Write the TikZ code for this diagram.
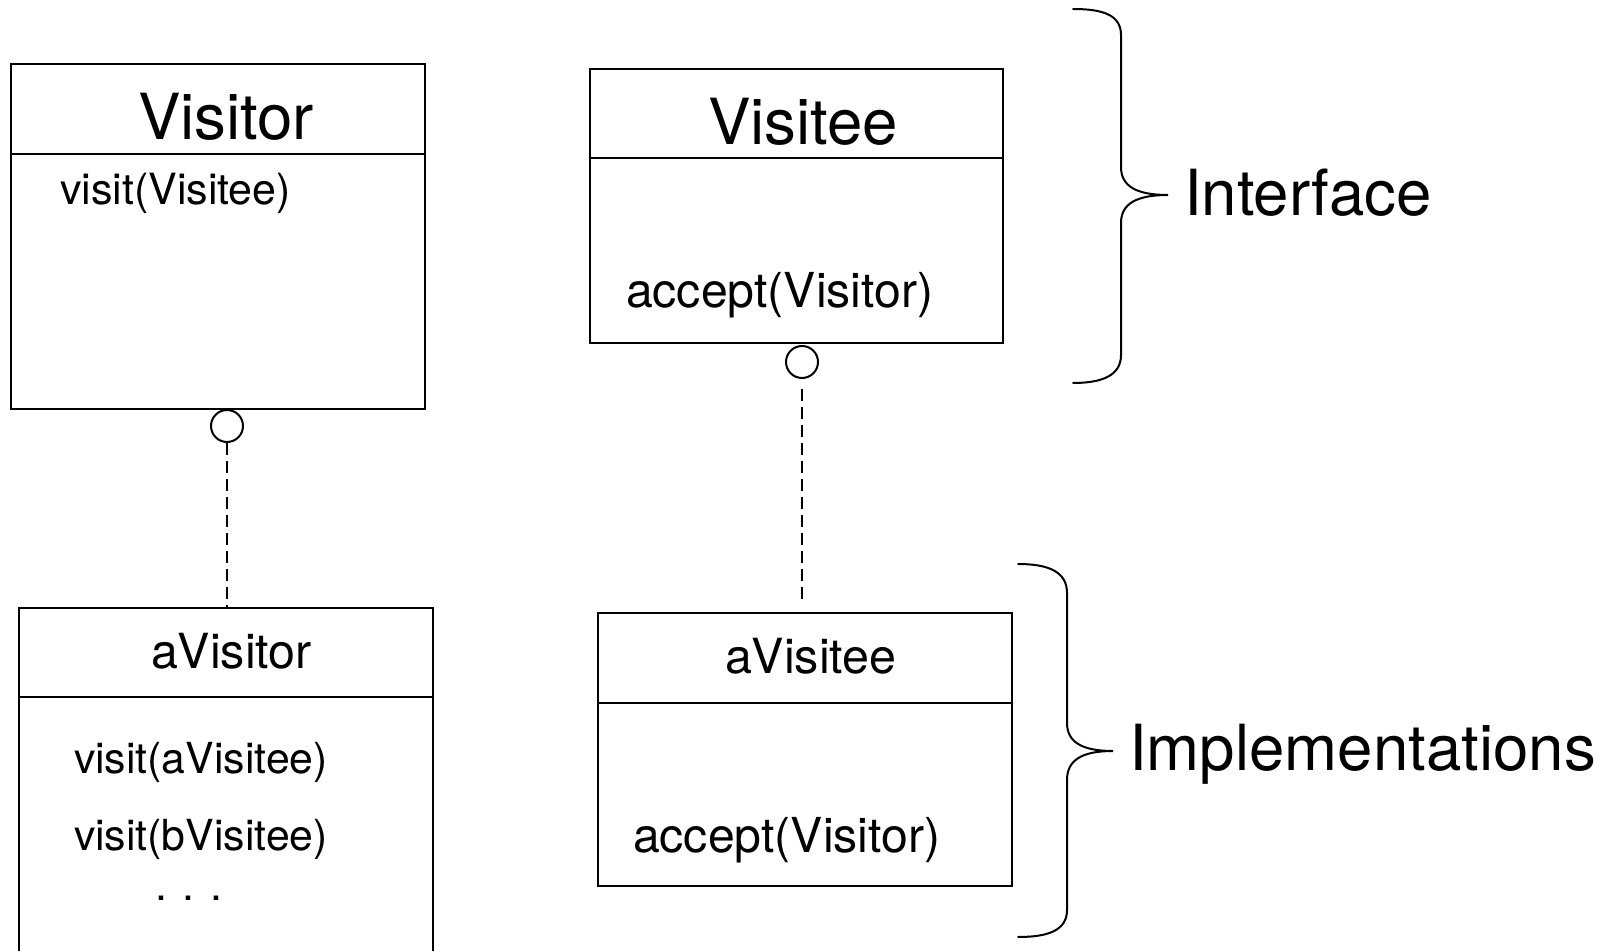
\documentclass[tikz,border=0pt]{standalone}
\usepackage{fontspec}
\setmainfont{TeX Gyre Heros}
\begin{document}
\begin{tikzpicture}[x=0.5pt,y=-0.5pt,line width=1pt,
  umlbox/.style={draw,rectangle,inner sep=0pt,outer sep=0pt,anchor=north west},
  lollipop/.style={draw,circle,fill=white,minimum size=16pt,inner sep=0pt},
  realize/.style={dash pattern=on 6pt off 3pt},
  bracepath/.style={line cap=round},
  txt/.style={inner sep=0pt,outer sep=0pt,anchor=base west},
  titlefont/.style={font=\fontsize{31.8}{36}\selectfont},
  headfont/.style={font=\fontsize{24.2}{28}\selectfont},
  acceptfont/.style={font=\fontsize{24.1}{28}\selectfont},
  opfont/.style={font=\fontsize{21.4}{25}\selectfont}]
\useasboundingbox (0,0) rectangle (1616,951);
\clip (0,0) rectangle (1616,951);

% Visitor interface
\node[umlbox,minimum width=207pt,minimum height=172.5pt] (visitor) at (11,64) {};
\node[umlbox,minimum width=207pt,minimum height=45pt] (visitorhead) at (11,64) {};
\node[txt,titlefont] (visitortitle) at (138,140) {Visitor};
\node[txt,font=\fontsize{21.5}{25}\selectfont] (visitorop) at (60,205) {visit(Visitee)};

% Visitee interface
\node[umlbox,minimum width=206.5pt,minimum height=137pt] (visitee) at (590,69) {};
\node[umlbox,minimum width=206.5pt,minimum height=44.5pt] (visiteehead) at (590,69) {};
\node[txt,titlefont] (visiteetitle) at (708,145) {Visitee};
\node[txt,acceptfont] (visiteeop) at (626,308) {accept(Visitor)};

% aVisitor implementation
\node[umlbox,minimum width=207pt,minimum height=200pt] (avisitor) at (19,608) {};
\node[umlbox,minimum width=207pt,minimum height=44.5pt] (avisitorhead) at (19,608) {};
\node[txt,headfont] (avisitortitle) at (151,668) {aVisitor};
\node[txt,opfont] (avisitorop1) at (74,773) {visit(aVisitee)};
\node[txt,opfont] (avisitorop2) at (74,850) {visit(bVisitee)};
\node[txt,opfont] (avisitordots) at (155,900) {. . .};

% aVisitee implementation
\node[umlbox,minimum width=207pt,minimum height=136.5pt] (avisitee) at (598,613) {};
\node[umlbox,minimum width=207pt,minimum height=45pt] (avisiteehead) at (598,613) {};
\node[txt,headfont] (avisiteetitle) at (725,673) {aVisitee};
\node[txt,acceptfont] (avisiteeop) at (633,852) {accept(Visitor)};

% interface lollipops and realization links
\node[lollipop] (visitorball) at (227,426) {};
\node[lollipop] (visiteeball) at (802,362) {};
\draw[realize] (visitorball.south) -- (visitorball.south |- avisitor.north);
\draw[realize,shorten <=5pt,shorten >=5pt] (visiteeball.south) -- (visiteeball.south |- avisitee.north);

% braces
\draw[bracepath] (1073,9) .. controls (1103,9) and (1121,15) .. (1121,35)
  -- (1121,167) .. controls (1121,186) and (1136,195) .. (1168,195)
  .. controls (1136,195) and (1121,204) .. (1121,223)
  -- (1121,355) .. controls (1121,375) and (1103,383) .. (1073,383);
\draw[bracepath] (1018,564) .. controls (1049,564) and (1067,572) .. (1067,593)
  -- (1067,723) .. controls (1067,742) and (1082,751) .. (1113,751)
  .. controls (1082,751) and (1067,760) .. (1067,780)
  -- (1067,910) .. controls (1067,930) and (1049,937) .. (1018,937);

\node[txt,titlefont] (interfacelabel) at (1184,216) {Interface};
\node[txt,titlefont] (impllabel) at (1129,770) {Implementations};
\end{tikzpicture}
\end{document}
